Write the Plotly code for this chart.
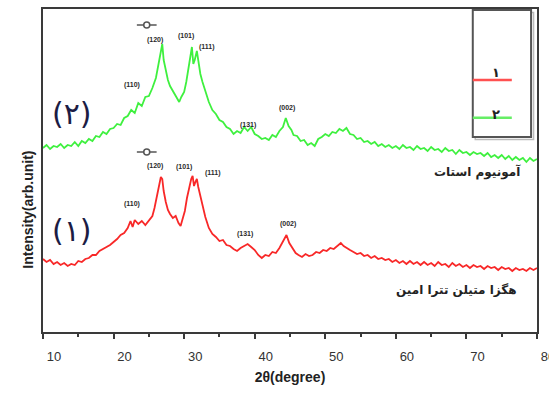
import plotly.graph_objects as go

# ---------------- data ----------------
green_x = [10.0,10.5,11.0,11.5,12.0,12.5,13.0,13.5,14.0,14.5,15.0,15.5,16.0,16.5,17.0,17.5,18.0,18.5,19.0,19.5,
           20.0,20.5,21.0,21.5,22.0,22.5,23.0,23.5,24.0,24.5,25.0,25.5,26.0,26.3,26.6,26.9,27.1,27.4,27.7,28.0,
           28.5,29.0,29.3,29.6,30.0,30.3,30.6,30.9,31.1,31.3,31.5,31.8,32.0,32.3,32.6,33.0,33.5,34.0,34.5,35.0,
           35.5,36.0,36.5,37.0,37.5,38.0,38.5,39.0,39.5,40.0,40.5,41.0,41.5,42.0,42.5,43.0,43.5,44.0,44.4,44.8,
           45.2,45.5,46.0,46.5,47.0,47.5,48.0,48.5,49.0,49.5,50.0,50.5,51.0,51.5,52.0,52.5,53.0,53.5,54.0,54.5,
           55.0,55.5,56.0,56.5,57.0,57.5,58.0,58.5,59.0,59.5,60.0,60.5,61.0,61.5,62.0,62.5,63.0,63.5,64.0,64.5,
           65.0,65.5,66.0,66.5,67.0,67.5,68.0,68.5,69.0,69.5,70.0,70.5,71.0,71.5,72.0,72.5,73.0,73.5,74.0,74.5,
           75.0,75.5,76.0,76.5,77.0,77.5,78.0,78.5,79.0,79.5,80.0]
green_y = [184,187,183,186,185,188,184,187,186,190,186,191,189,193,191,196,195,200,198,203,
           204,208,207,214,216,222,219,229,226,235,236,244,254,266,276,288,272,262,252,246,
           240,234,230,235,240,250,265,280,285,268,272,281,270,258,250,240,230,222,218,212,
           210,205,203,198,201,199,205,201,205,198,196,193,194,192,197,195,201,205,214,206,
           202,197,196,191,192,187,189,186,193,195,198,196,200,199,203,201,204,198,197,193,
           194,190,191,188,190,186,188,185,187,184,186,183,187,184,185,182,186,183,184,181,
           185,182,183,180,184,181,182,178,182,179,180,177,180,178,179,176,179,175,177,174,
           177,173,176,172,175,172,174,170,174,171,173]

red_x = [10.0,10.5,11.0,11.5,12.0,12.5,13.0,13.5,14.0,14.5,15.0,15.5,16.0,16.5,17.0,17.5,18.0,18.5,19.0,19.5,
         20.0,20.5,21.0,21.5,22.0,22.4,22.7,23.0,23.5,24.0,24.5,25.0,25.5,25.8,26.1,26.4,26.7,26.9,27.1,27.4,
         27.7,28.0,28.4,28.8,29.2,29.5,29.8,30.1,30.4,30.7,31.0,31.2,31.4,31.6,31.8,32.0,32.3,32.6,33.0,33.5,
         34.0,34.5,35.0,35.5,36.0,36.5,37.0,37.5,38.0,38.5,39.0,39.5,40.0,40.5,41.0,41.5,42.0,42.5,43.0,43.5,
         44.0,44.5,44.9,45.3,45.8,46.2,46.7,47.2,47.7,48.2,48.7,49.2,49.7,50.2,50.7,51.2,51.7,52.2,52.6,53.0,
         53.5,54.0,54.5,55.0,55.5,56.0,56.5,57.0,57.5,58.0,58.5,59.0,59.5,60.0,60.5,61.0,61.5,62.0,62.5,63.0,
         63.5,64.0,64.5,65.0,65.5,66.0,66.5,67.0,67.5,68.0,68.5,69.0,69.5,70.0,70.5,71.0,71.5,72.0,72.5,73.0,
         73.5,74.0,74.5,75.0,75.5,76.0,76.5,77.0,77.5,78.0,78.5,79.0,79.5,80.0]
red_y = [73,70,72,68,70,67,69,66,68,67,71,70,73,74,77,77,81,83,85,87,
         90,93,97,99,104,111,105,112,108,111,107,111,116,124,134,146,155,153,141,130,
         122,118,114,116,109,106,113,121,134,145,153,156,146,150,153,145,136,125,115,104,
         98,95,91,92,87,86,83,81,84,86,88,85,82,77,74,77,76,80,79,84,
         90,97,89,84,79,77,75,78,76,77,80,79,82,81,84,83,86,89,86,84,
         82,80,78,79,76,77,74,76,73,74,72,73,70,72,69,71,68,71,68,70,
         67,70,67,69,66,70,67,68,65,69,66,68,65,67,64,67,65,66,63,66,
         64,65,62,65,63,64,61,64,62,63,61,64,62,64]

# peak labels (Miller indices)
green_lbl = ["(110)", "(120)", "(101)", "(111)", "(131)", "(002)"]
green_lbl_x = [22.6, 25.9, 30.3, 33.2, 39.0, 44.6]
green_lbl_y = [247, 292, 296, 285, 207, 224]
red_lbl = ["(110)", "(120)", "(101)", "(111)", "(131)", "(002)"]
red_lbl_x = [22.6, 25.9, 30.0, 34.1, 38.6, 44.7]
red_lbl_y = [128, 166, 165, 159, 98, 108]
star_x = [24.7, 24.7]
star_y = [307, 180]

names = ["آمونیوم استات", "هگزا متیلن تترا امین"]
names_x = [71.6, 68.6]
names_y = [160, 42]
curve_tags = ["(۲)", "(۱)"]
tags_x = [14.1, 14.1]
tags_y = [219, 102]
legend_tags = ["۱", "۲"]

x_ticks = [10, 20, 30, 40, 50, 60, 70, 80]

GREEN = "#3ff03f"
RED = "#f82828"
DARK = "#3a3a3a"

fig = go.Figure()
fig.add_trace(go.Scatter(x=green_x, y=green_y, mode="lines",
                         line=dict(color=GREEN, width=1.8), showlegend=False, hoverinfo="skip"))
fig.add_trace(go.Scatter(x=red_x, y=red_y, mode="lines",
                         line=dict(color=RED, width=1.8), showlegend=False, hoverinfo="skip"))
# small reference symbols above (120)
fig.add_trace(go.Scatter(x=star_x, y=star_y, mode="markers",
                         marker=dict(symbol="circle-open", size=6, color="#555", line=dict(width=1.5)),
                         showlegend=False, hoverinfo="skip"))
for sx, sy in zip(star_x, star_y):
    fig.add_shape(type="line", x0=sx - 1.4, x1=sx - 0.4, y0=sy, y1=sy,
                  line=dict(color="#555", width=1.5))
    fig.add_shape(type="line", x0=sx + 0.4, x1=sx + 1.4, y0=sy, y1=sy,
                  line=dict(color="#555", width=1.5))

ann = []
for t, x, y in zip(green_lbl + red_lbl, green_lbl_x + red_lbl_x, green_lbl_y + red_lbl_y):
    ann.append(dict(x=x, y=y, text="<b>" + t + "</b>", showarrow=False,
                    font=dict(family="Liberation Sans, Arial", size=7, color="#2a2a2a")))
for t, x, y in zip(names, names_x, names_y):
    ann.append(dict(x=x, y=y, text="<b>" + t + "</b>", showarrow=False,
                    font=dict(family="DejaVu Sans", size=12, color="#222")))
for t, x, y in zip(curve_tags, tags_x, tags_y):
    ann.append(dict(x=x, y=y, text=t, showarrow=False,
                    font=dict(family="DejaVu Sans", size=30, color="#1c1c44")))

# legend box (drawn)
lx0, lx1, ly0, ly1 = 0.870, 0.988, 0.604, 0.997
fig.add_shape(type="rect", xref="paper", yref="paper", x0=lx0 + 0.005, x1=lx1 + 0.005,
              y0=ly0 - 0.008, y1=ly1 - 0.008, line=dict(color="#bbbbbb", width=1.5))
fig.add_shape(type="rect", xref="paper", yref="paper", x0=lx0, x1=lx1, y0=ly0, y1=ly1,
              line=dict(color="#555", width=2), fillcolor="white")
fig.add_shape(type="line", xref="paper", yref="paper", x0=lx0, x1=0.949, y0=0.780, y1=0.780,
              line=dict(color="#ff5050", width=2.5))
fig.add_shape(type="line", xref="paper", yref="paper", x0=lx0, x1=0.949, y0=0.663, y1=0.663,
              line=dict(color="#66ee66", width=2.5))
for t, y in zip(legend_tags, [0.833, 0.703]):
    ann.append(dict(x=0.929, y=y, xref="paper", yref="paper", text="<b>" + t + "</b>", showarrow=False,
                    font=dict(family="DejaVu Sans", size=13, color="#222")))

ann.append(dict(x=-0.051, y=0.378, xref="paper", yref="paper", text="<b>Intensity(arb.unit)</b>",
                textangle=-90, showarrow=False,
                font=dict(family="Liberation Sans, Arial", size=14, color="#222")))

fig.update_layout(
    width=549, height=394,
    margin=dict(l=43, r=12, t=9, b=62, autoexpand=False),
    paper_bgcolor="white", plot_bgcolor="white",
    annotations=ann,
    xaxis=dict(range=[10, 80], tickvals=x_ticks, ticktext=[str(v) for v in x_ticks],
               ticks="outside", ticklen=5, tickwidth=1.5, tickcolor=DARK,
               minor=dict(dtick=5, ticks="outside", ticklen=3, tickwidth=1.5, tickcolor=DARK),
               showline=True, linecolor=DARK, linewidth=2, mirror=True, automargin=False,
               showgrid=False, zeroline=False, ticklabelshift=11, ticklabelstandoff=6,
               ticklabeloverflow="allow",
               tickfont=dict(family="Liberation Sans, Arial", size=13, color="#333"),
               title=dict(text="<b>2θ(degree)</b>", standoff=10,
                          font=dict(family="Liberation Sans, Arial", size=14, color="#222"))),
    yaxis=dict(range=[0, 323], showticklabels=False, ticks="", showgrid=False, zeroline=False,
               showline=True, linecolor=DARK, linewidth=2, mirror=True, automargin=False),
)

fig.write_html("out.html", config={"displayModeBar": False},
               post_script="document.body.style.margin='0';")
